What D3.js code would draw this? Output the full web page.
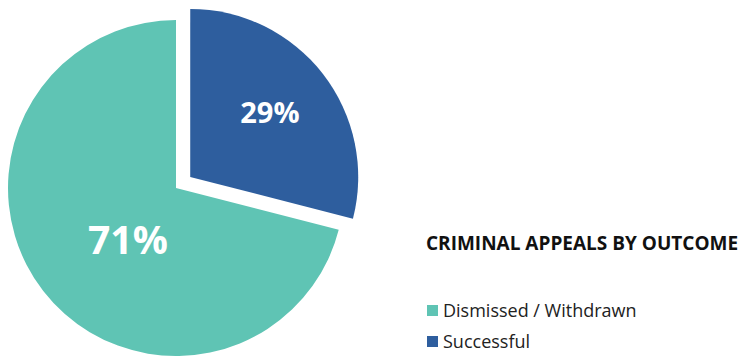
<!DOCTYPE html>
<html>
<head>
<meta charset="utf-8">
<script src="https://cdn.jsdelivr.net/npm/d3@7"></script>
<style>
  body { margin: 0; background: #fff; }
  svg { display: block; }
</style>
</head>
<body>
<div id="chart"></div>
<script>
// chart data
let categories = ["Dismissed / Withdrawn", "Successful"];
let values = [71, 29];
let labels = ["71%", "29%"];
let chartTitle = "CRIMINAL APPEALS BY OUTCOME";

let w = 742;
let h = 356;
let r = 168;
let cx = 176, cy = 188;
let explode = 18;

let colors = d3.scaleOrdinal()
  .domain(categories)
  .range(["#5fc4b4", "#2e5e9e"]);

let svg = d3.select("#chart")
  .append("svg")
  .attr("width", w)
  .attr("height", h);

let data = categories.map(function (c, i) {
  return { name: c, value: values[i], label: labels[i] };
});

// successful slice starts at 12 o'clock, so dismissed starts where it ends
let startA = 2 * Math.PI * values[1] / d3.sum(values);
let pie = d3.pie()
  .sort(null)
  .value(function (d) { return d.value; })
  .startAngle(startA)
  .endAngle(startA + 2 * Math.PI);

let arcs = pie(data);
let arc = d3.arc().innerRadius(0).outerRadius(r);

let slices = svg.append("g")
  .attr("transform", "translate(" + cx + "," + cy + ")")
  .selectAll(".slice")
  .data(arcs)
  .enter()
  .append("g")
  .classed("slice", true)
  .attr("transform", function (d) {
    if (d.data.name != "Successful") return null;
    let mid = (d.startAngle + d.endAngle) / 2;
    return "translate(" + (Math.sin(mid) * explode) + "," + (-Math.cos(mid) * explode) + ")";
  });

slices.append("path")
  .attr("d", arc)
  .attr("fill", function (d) { return colors(d.data.name); });

slices.append("text")
  .attr("transform", function (d) {
    let mid = (d.startAngle + d.endAngle) / 2;
    let big = d.data.name != "Successful";
    let lr = big ? r * 0.43 : r * 0.6;
    // excel "best fit" nudges the big label a little
    let x = Math.sin(mid) * lr + (big ? 9 : 0);
    let y = -Math.cos(mid) * lr + (big ? 8 : -3);
    return "translate(" + x + "," + y + ")";
  })
  .attr("text-anchor", "middle")
  .attr("dy", "0.36em")
  .attr("font-family", "'Open Sans', sans-serif")
  .attr("font-weight", "bold")
  .attr("font-size", function (d) { return d.data.name == "Successful" ? 29 : 39; })
  .attr("fill", "#fff")
  .text(function (d) { return d.data.label; });

// title + legend
svg.append("text")
  .attr("x", 426)
  .attr("y", 250)
  .attr("font-family", "'Open Sans', sans-serif")
  .attr("font-weight", "bold")
  .attr("font-size", 19)
  .attr("fill", "#111")
  .text(chartTitle);

let legend = svg.append("g")
  .attr("transform", "translate(427,305)");

let items = legend.selectAll(".item")
  .data(categories)
  .enter()
  .append("g")
  .classed("item", true)
  .attr("transform", function (d, i) { return "translate(0," + (i * 31) + ")"; });

items.append("rect")
  .attr("width", 11)
  .attr("height", 11)
  .attr("fill", function (d) { return colors(d); });

items.append("text")
  .attr("x", 16)
  .attr("y", 12)
  .attr("font-family", "'Open Sans', sans-serif")
  .attr("font-size", 18)
  .attr("fill", "#222")
  .text(function (d) { return d; });
</script>
</body>
</html>
